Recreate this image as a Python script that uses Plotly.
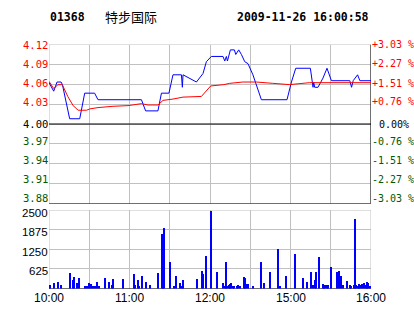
import plotly.graph_objects as go

# ---------------- data ----------------
code = "01368"
name = "特步国际"
stamp = "2009-11-26 16:00:58"
prev_close = 4.00
pct_max = 3.03

time_ticks = [0, 60, 120, 180, 240]
time_labels = ["10:00", "11:00", "12:00", "15:00", "16:00"]

# minute index (0 = 10:00, 240 = 16:00) and price
price_min = [0, 3.5, 6, 9, 10, 15.4, 22.9, 26.6, 34, 36.5, 68.9, 72, 81.2, 83.8, 89.4,
             92.4, 98.7, 99.4, 99.9, 109.9, 114.8, 117.3, 121, 129.7, 131, 132.2, 133,
             135.2, 138.2, 139.2, 141.4, 143.4, 145.9, 148.3, 152, 158.3, 177.4, 180.7,
             183.9, 194.8, 196.8, 197.3, 198, 200.5, 204.2, 207.2, 210.5, 224.2, 225.5,
             226.7, 230, 231.7, 240]
price_val = [4.063, 4.050, 4.064, 4.064, 4.060, 4.008, 4.008, 4.047, 4.047, 4.037, 4.037,
             4.020, 4.020, 4.047, 4.047, 4.075, 4.075, 4.056, 4.075, 4.064, 4.077, 4.095,
             4.103, 4.103, 4.096, 4.103, 4.096, 4.113, 4.113, 4.106, 4.113, 4.106, 4.095,
             4.092, 4.075, 4.037, 4.037, 4.064, 4.085, 4.085, 4.056, 4.064, 4.056, 4.056,
             4.070, 4.085, 4.066, 4.066, 4.056, 4.066, 4.075, 4.066, 4.066]

avg_min = [0, 3.5, 6.7, 9.9, 14, 18, 21.7, 28, 30.4, 36.5, 47.7, 58.9, 68.9, 73.8, 81.2,
           85, 92.4, 99.9, 113.6, 116, 120.5, 130.3, 134.7, 144.5, 154.5, 166.8, 179.2,
           194.2, 240]
avg_val = [4.065, 4.054, 4.060, 4.060, 4.042, 4.028, 4.021, 4.021, 4.023, 4.025, 4.027,
           4.028, 4.031, 4.029, 4.029, 4.036, 4.038, 4.041, 4.042, 4.047, 4.058, 4.060,
           4.062, 4.064, 4.064, 4.062, 4.060, 4.063, 4.063]

vol_min = [0, 1, 4, 7, 9, 16, 18, 19, 21, 22, 27, 28, 30, 31, 33, 34, 36, 37, 42, 45, 47,
           48, 55, 63, 64, 66, 67, 69, 72, 75, 81, 84, 85, 86, 90, 93, 95, 98, 99, 100,
           110, 114, 115, 117, 121, 125, 130, 131, 132, 133, 134, 135, 136, 137, 138,
           140, 141, 142, 145, 146, 147, 148, 152, 158, 160, 165, 171, 172, 177, 183,
           189, 192, 195, 197, 198, 199, 201, 204, 205, 206, 207, 208, 210, 215, 216,
           218, 219, 222, 224, 225, 227, 228, 229, 230, 231, 232, 233, 235, 236, 237,
           238, 239]
vol_val = [106, 106, 170, 202, 106, 490, 266, 362, 170, 330, 75, 75, 170, 138, 75, 75,
           202, 75, 330, 202, 106, 298, 298, 458, 106, 266, 75, 394, 202, 106, 490, 1734,
           75, 1926, 840, 75, 394, 170, 75, 266, 298, 553, 458, 1032, 2470, 521, 170, 75,
           840, 75, 106, 138, 170, 75, 75, 75, 106, 75, 362, 330, 138, 138, 75, 840, 170,
           521, 1256, 75, 394, 1096, 330, 202, 521, 106, 266, 521, 1000, 138, 75, 106,
           106, 106, 681, 521, 553, 394, 106, 234, 106, 75, 106, 2213, 106, 75, 138, 106,
           138, 170, 106, 202, 170, 75]

vol_ticks = [2500, 1875, 1250, 625]

# ---------------- layout constants (pixels) ----------------
W, H = 414, 314
xl, xr = 49, 371
py_top, py_bot = 44.5, 203.5
vy_top, vy_bot = 210, 288.5
# label centre rows (pixels from top) as placed in the reference
price_label_px = [45, 63.7, 83, 102, 124.5, 141, 160, 179, 198]   # +4 .. -4 quarter steps
vol_label_px = [213.3, 232.3, 251.7, 270.7]
time_label_px = 298
title_px = 16.5

span = prev_close * pct_max / 100.0
pmin, pmax = prev_close - span, prev_close + span
steps = [4, 3, 2, 1, 0, -1, -2, -3, -4]
price_ticks = [prev_close + span * k / 4 for k in steps]

RED = "#ff0000"
GREEN = "#005a00"
GRID = "#c0c0c0"
MONO = "DejaVu Sans Mono"
SANS = "Liberation Sans, Arial"

fig = go.Figure()
fig.add_trace(go.Scatter(x=price_min, y=price_val, mode="lines",
                         line=dict(color="#0000ff", width=1), xaxis="x", yaxis="y",
                         hoverinfo="skip"))
fig.add_trace(go.Scatter(x=avg_min, y=avg_val, mode="lines",
                         line=dict(color=RED, width=1), xaxis="x", yaxis="y",
                         hoverinfo="skip"))
fig.add_trace(go.Bar(x=vol_min, y=vol_val, width=0.75,
                     marker=dict(color="#0000ff", line=dict(width=0)),
                     xaxis="x2", yaxis="y2", hoverinfo="skip"))

dom_x = [xl / W, xr / W]
grid_x = list(range(0, 241, 30))
fig.update_layout(
    width=W, height=H, autosize=False,
    margin=dict(l=0, r=0, t=0, b=0),
    paper_bgcolor="white", plot_bgcolor="white",
    showlegend=False, bargap=0,
    xaxis=dict(domain=dom_x, range=[0, 240], tickvals=grid_x, showticklabels=False,
               showgrid=True, gridcolor=GRID, gridwidth=1, zeroline=False, showline=False,
               anchor="y", fixedrange=True),
    yaxis=dict(domain=[1 - py_bot / H, 1 - py_top / H], range=[pmin, pmax],
               tickvals=price_ticks, showticklabels=False, showgrid=True, gridcolor=GRID,
               gridwidth=1, zeroline=False, showline=False, anchor="x", fixedrange=True),
    xaxis2=dict(domain=dom_x, range=[0, 240], tickvals=grid_x, showticklabels=False,
                showgrid=True, gridcolor=GRID, gridwidth=1, zeroline=False, showline=False,
                anchor="y2", fixedrange=True),
    yaxis2=dict(domain=[1 - vy_bot / H, 1 - vy_top / H], range=[0, 2500],
                tickvals=[0] + vol_ticks, showticklabels=False, showgrid=True, gridcolor=GRID,
                gridwidth=1, zeroline=False, showline=False, anchor="x2", fixedrange=True),
)

shapes = []
shapes.append(dict(type="rect", xref="x", yref="y", x0=0, x1=240, y0=pmin, y1=pmax,
                   line=dict(color=GRID, width=1), layer="between"))
shapes.append(dict(type="line", xref="x", yref="y", x0=240, x1=240, y0=pmin, y1=pmax,
                   line=dict(color="#000000", width=1), layer="between"))
shapes.append(dict(type="line", xref="x", yref="y", x0=0, x1=240, y0=prev_close, y1=prev_close,
                   line=dict(color="#000000", width=1), layer="between"))
shapes.append(dict(type="line", xref="x", yref="y", x0=0, x1=240, y0=pmin, y1=pmin,
                   line=dict(color="#000000", width=1), layer="between"))
shapes.append(dict(type="rect", xref="x2", yref="y2", x0=0, x1=240, y0=0, y1=2500,
                   line=dict(color=GRID, width=1), layer="between"))
shapes.append(dict(type="line", xref="x2", yref="y2", x0=0, x1=240, y0=0, y1=0,
                   line=dict(color="#000000", width=1), layer="between"))
fig.update_layout(shapes=shapes)


def py(px):
    return 1 - px / H


ann = []
for k, pv, lp in zip(steps, price_ticks, price_label_px):
    col = RED if k > 0 else ("#000000" if k == 0 else GREEN)
    ann.append(dict(x=47.5 / W, xref="paper", y=py(lp), yref="paper", text=f"{pv:.2f}",
                    showarrow=False, xanchor="right", yanchor="middle",
                    font=dict(family=MONO, size=10.5, color=col), borderpad=0, borderwidth=0))
    pct = pct_max * k / 4
    if k == 0:
        txt, xx = "0.00%", 378.5
    else:
        txt, xx = f"{'+' if k > 0 else '-'}{abs(pct):.2f} %", 371.5
    ann.append(dict(x=xx / W, xref="paper", y=py(lp), yref="paper", text=txt,
                    showarrow=False, xanchor="left", yanchor="middle",
                    font=dict(family=MONO, size=10, color=col), borderpad=0, borderwidth=0))
for v, lp in zip(vol_ticks, vol_label_px):
    ann.append(dict(x=47.5 / W, xref="paper", y=py(lp), yref="paper", text=str(v),
                    showarrow=False, xanchor="right", yanchor="middle",
                    font=dict(family=SANS, size=11.5, color="#000000"), borderpad=0, borderwidth=0))
for t, lab in zip(time_ticks, time_labels):
    ann.append(dict(x=t, xref="x2", y=py(time_label_px), yref="paper", text=lab,
                    showarrow=False, xanchor="center", yanchor="middle",
                    font=dict(family=SANS, size=12, color="#000000"), borderpad=0, borderwidth=0))
ty = py(title_px)
ann.append(dict(x=49.5 / W, xref="paper", y=ty, yref="paper", text=f"<b>{code}</b>",
                showarrow=False, xanchor="left", yanchor="middle",
                font=dict(family=MONO, size=11.5, color="#000000"), borderpad=0, borderwidth=0))
ann.append(dict(x=104.5 / W, xref="paper", y=ty, yref="paper", text=name,
                showarrow=False, xanchor="left", yanchor="middle",
                font=dict(family="Noto Sans CJK SC", size=13, color="#000000"), borderpad=0, borderwidth=0))
ann.append(dict(x=237 / W, xref="paper", y=ty, yref="paper", text=f"<b>{stamp}</b>",
                showarrow=False, xanchor="left", yanchor="middle",
                font=dict(family=MONO, size=11.5, color="#000000"), borderpad=0, borderwidth=0))
fig.update_layout(annotations=ann)

fig.write_html("out.html", config={"displayModeBar": False})
